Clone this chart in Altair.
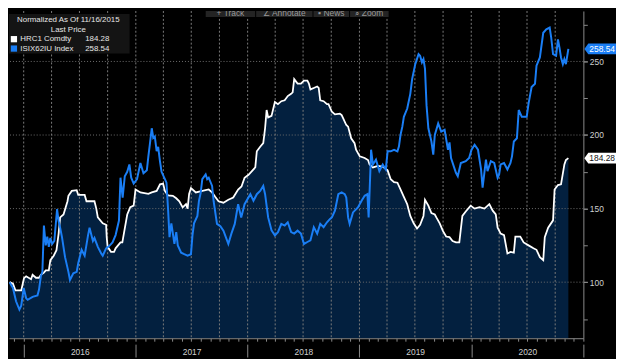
import altair as alt
import pandas as pd

# ---------------- data ----------------
series_names = ["HRC1 Comdty", "ISIX62IU Index"]
series_colors = ["#ffffff", "#1a7ef5"]
legend_title = ["Normalized As Of 11/16/2015", "Last Price"]
years = [2016, 2017, 2018, 2019, 2020]
y_major = [100, 150, 200, 250]
y_minor = [75, 100, 125, 150, 175, 200, 225, 250, 275]
toolbar_items = ["+ Track", "\u2220 Annotate", "\u25aa News", "\u2315 Zoom"]

hrc_dates = [
    "2015-11-16", "2015-11-27", "2015-12-05", "2015-12-24", "2016-01-02", "2016-01-09",
    "2016-01-25", "2016-01-30", "2016-02-10", "2016-02-20", "2016-02-26", "2016-03-07",
    "2016-03-13", "2016-03-23", "2016-03-28", "2016-04-08", "2016-04-17", "2016-04-24",
    "2016-04-29", "2016-05-10", "2016-05-23", "2016-05-26", "2016-06-06", "2016-06-22",
    "2016-06-27", "2016-07-18", "2016-07-24", "2016-08-19", "2016-08-25", "2016-08-30",
    "2016-09-15", "2016-09-26", "2016-09-28", "2016-10-01", "2016-10-12", "2016-10-22",
    "2016-10-27", "2016-11-12", "2016-11-18", "2016-11-23", "2016-12-04", "2016-12-14",
    "2016-12-25", "2016-12-31", "2017-01-16", "2017-02-11", "2017-02-22", "2017-03-10",
    "2017-03-15", "2017-03-21", "2017-03-31", "2017-04-06", "2017-04-16", "2017-05-02",
    "2017-05-13", "2017-05-23", "2017-06-03", "2017-06-14", "2017-06-19", "2017-06-24",
    "2017-06-30", "2017-07-16", "2017-08-06", "2017-08-27", "2017-09-07", "2017-09-17",
    "2017-09-28", "2017-10-14", "2017-10-30", "2017-11-15", "2017-12-01", "2017-12-12",
    "2017-12-22", "2018-01-04", "2018-01-15", "2018-01-26", "2018-01-31", "2018-02-11",
    "2018-02-21", "2018-02-27", "2018-03-04", "2018-03-09", "2018-03-20", "2018-03-31",
    "2018-04-10", "2018-04-21", "2018-05-02", "2018-05-12", "2018-05-23", "2018-05-28",
    "2018-06-02", "2018-06-13", "2018-06-24", "2018-07-04", "2018-07-15", "2018-07-20",
    "2018-07-25", "2018-08-05", "2018-08-16", "2018-08-21", "2018-08-26", "2018-09-06",
    "2018-09-17", "2018-09-22", "2018-10-03", "2018-10-13", "2018-10-29", "2018-11-04",
    "2018-11-09", "2018-11-19", "2018-11-25", "2018-12-05", "2018-12-16", "2018-12-21",
    "2019-01-02", "2019-01-18", "2019-01-29", "2019-02-03", "2019-02-14", "2019-03-02",
    "2019-03-18", "2019-04-03", "2019-04-13", "2019-04-24", "2019-05-05", "2019-05-15",
    "2019-05-26", "2019-06-06", "2019-06-16", "2019-06-27", "2019-07-08", "2019-07-18",
    "2019-07-29", "2019-08-03", "2019-08-14", "2019-08-24", "2019-09-04", "2019-09-09",
    "2019-09-20", "2019-09-30", "2019-10-11", "2019-10-22", "2019-11-01", "2019-11-12",
    "2019-11-23", "2019-12-03", "2019-12-14", "2019-12-30", "2020-01-12", "2020-01-28",
    "2020-02-13", "2020-02-29", "2020-03-11", "2020-03-21", "2020-03-27", "2020-04-06",
    "2020-04-17", "2020-04-28", "2020-05-08", "2020-05-19", "2020-05-24", "2020-06-09",
    "2020-06-20", "2020-07-06", "2020-07-22", "2020-08-01", "2020-08-12", "2020-08-23",
    "2020-08-28", "2020-09-08", "2020-09-24", "2020-09-29", "2020-10-10", "2020-10-20",
    "2020-10-31", "2020-11-05", "2020-11-13",
]
hrc_values = [
    100, 99, 94.4, 94.4, 102.7, 104,
    102, 105, 103, 103, 105, 106.5,
    108, 108, 115, 118, 121.7, 133,
    144, 146, 155, 158.7, 162, 162.5,
    159.3, 159.3, 155, 155, 150, 144,
    140, 139, 130.6, 124, 120.6, 120.6,
    123, 127, 127, 133, 146, 151,
    152, 163, 161, 160, 161, 162,
    164, 166.5, 167, 162, 159, 158.7,
    157, 155, 150.8, 153, 150, 160,
    164, 161, 162, 163, 161, 158,
    155, 154, 156, 157.5, 163, 165,
    171, 173, 175.5, 178, 189, 192,
    194.5, 204.6, 217, 212, 213, 222.5,
    221, 223, 223.6, 226.5, 228, 229,
    238, 235, 235, 237, 237, 235,
    231, 232, 233, 232, 223.6, 223,
    221, 221, 215.8, 214, 214.5, 213.6,
    211.3, 206.8, 205.7, 197.8, 194.5, 190,
    185.5, 184.4, 183, 180, 178, 179,
    178.5, 176, 170, 168, 167.6, 163,
    158, 153, 145, 140, 136.5, 139,
    145, 156, 152, 147, 146, 144,
    140, 135, 131, 130.6, 128, 127,
    127, 145, 148, 152, 150, 151,
    150, 153, 148.6, 146, 137, 133,
    132, 119.5, 120.5, 120, 131, 131,
    127, 125, 123, 122, 117, 115,
    130.6, 137, 142, 163, 166, 166.5,
    180, 183, 184.28,
]

isix_dates = [
    "2015-11-16", "2015-11-27", "2015-12-07", "2015-12-18", "2015-12-24", "2016-01-01",
    "2016-01-09", "2016-01-14", "2016-01-30", "2016-02-15", "2016-02-20", "2016-02-26",
    "2016-03-02", "2016-03-07", "2016-03-13", "2016-03-18", "2016-03-23", "2016-03-28",
    "2016-04-03", "2016-04-10", "2016-04-19", "2016-04-24", "2016-04-29", "2016-05-05",
    "2016-05-15", "2016-05-26", "2016-05-31", "2016-06-11", "2016-06-22", "2016-06-27",
    "2016-07-08", "2016-07-18", "2016-07-29", "2016-08-03", "2016-08-14", "2016-08-19",
    "2016-08-30", "2016-09-10", "2016-09-15", "2016-09-26", "2016-10-06", "2016-10-17",
    "2016-10-27", "2016-11-07", "2016-11-12", "2016-11-19", "2016-11-26", "2016-12-04",
    "2016-12-11", "2016-12-17", "2016-12-25", "2017-01-05", "2017-01-16", "2017-01-26",
    "2017-02-06", "2017-02-11", "2017-02-16", "2017-02-22", "2017-02-27", "2017-03-04",
    "2017-03-10", "2017-03-15", "2017-03-21", "2017-03-26", "2017-04-06", "2017-04-11",
    "2017-04-16", "2017-04-21", "2017-04-27", "2017-05-02", "2017-05-07", "2017-05-13",
    "2017-05-18", "2017-05-29", "2017-06-08", "2017-06-19", "2017-06-30", "2017-07-05",
    "2017-07-10", "2017-07-21", "2017-07-26", "2017-08-01", "2017-08-06", "2017-08-17",
    "2017-08-22", "2017-08-27", "2017-09-07", "2017-09-12", "2017-09-23", "2017-10-04",
    "2017-10-14", "2017-10-30", "2017-11-09", "2017-11-20", "2017-12-01", "2017-12-11",
    "2017-12-22", "2018-01-10", "2018-01-20", "2018-01-31", "2018-02-11", "2018-02-21",
    "2018-02-27", "2018-03-09", "2018-03-20", "2018-03-31", "2018-04-10", "2018-04-21",
    "2018-05-02", "2018-05-12", "2018-05-23", "2018-06-02", "2018-06-13", "2018-06-24",
    "2018-07-04", "2018-07-15", "2018-07-25", "2018-08-05", "2018-08-16", "2018-08-26",
    "2018-09-06", "2018-09-17", "2018-09-27", "2018-10-03", "2018-10-13", "2018-10-24",
    "2018-11-04", "2018-11-14", "2018-11-19", "2018-11-25", "2018-11-30", "2018-12-11",
    "2018-12-27", "2019-01-08", "2019-01-18", "2019-01-27", "2019-01-31", "2019-02-06",
    "2019-02-08", "2019-02-14", "2019-02-24", "2019-03-07", "2019-03-18", "2019-03-28",
    "2019-04-03", "2019-04-13", "2019-04-24", "2019-05-05", "2019-05-10", "2019-05-15",
    "2019-05-21", "2019-05-26", "2019-06-06", "2019-06-16", "2019-06-22", "2019-07-02",
    "2019-07-13", "2019-07-18", "2019-07-24", "2019-07-29", "2019-08-03", "2019-08-08",
    "2019-08-14", "2019-08-24", "2019-08-30", "2019-09-04", "2019-09-15", "2019-09-25",
    "2019-10-06", "2019-10-17", "2019-10-22", "2019-10-27", "2019-11-12", "2019-11-18",
    "2019-11-28", "2019-12-14", "2019-12-25", "2020-01-02", "2020-01-12", "2020-01-23",
    "2020-01-28", "2020-02-02", "2020-02-07", "2020-02-18", "2020-02-23", "2020-03-05",
    "2020-03-16", "2020-03-27", "2020-04-01", "2020-04-06", "2020-04-17", "2020-04-28",
    "2020-05-08", "2020-05-13", "2020-05-19", "2020-05-29", "2020-06-04", "2020-06-14",
    "2020-06-30", "2020-07-06", "2020-07-16", "2020-07-27", "2020-08-01", "2020-08-12",
    "2020-08-23", "2020-09-02", "2020-09-13", "2020-09-18", "2020-09-24", "2020-10-04",
    "2020-10-10", "2020-10-15", "2020-10-20", "2020-10-26", "2020-10-31", "2020-11-05",
    "2020-11-13",
]
isix_values = [
    100, 96, 87, 81.4, 84, 96,
    89, 88, 90, 91, 95, 104,
    107, 138.5, 125, 131, 124, 130,
    126, 128, 149.7, 141.5, 137, 130.6,
    117, 107, 101.5, 106, 107, 112.8,
    122, 118, 131.8, 137, 128, 130,
    124, 119.5, 118, 123, 124.5, 127,
    132, 141.9, 171, 157.5, 172, 175,
    180, 171, 167, 170, 181, 174,
    176, 185.5, 194, 204.6, 198, 199,
    189, 192, 182, 175, 170, 167.6,
    150.6, 130.6, 140, 133, 126, 134,
    125, 120, 119, 118, 119, 132,
    140, 145, 155, 161, 170, 173.2,
    170, 171, 165.4, 155, 139.6, 138,
    135, 126, 133, 139.6, 153, 144,
    153, 159.8, 155.3, 159.8, 162, 165.4,
    159.8, 144, 135.2, 131.8, 134, 139.6,
    138.5, 140.7, 134, 133, 135, 133,
    126, 127.3, 128.4, 137.4, 133, 139.6,
    137.4, 140.7, 143, 144, 148.6, 159.8,
    161, 159.8, 157.5, 144, 139.6, 147.4,
    150.8, 155.3, 158.7, 159.8, 144, 177.7,
    190, 180, 183.3, 175.5, 180, 176.6,
    188.9, 188.9, 190, 188.9, 192.3, 200,
    205.7, 212.4, 218, 228, 238, 248,
    255, 253.9, 249.4, 251.6, 244.9, 220.3,
    204.6, 195.6, 186.7, 200, 207.9, 202.3,
    203.5, 190, 195, 184.4, 174.3, 172,
    181, 182.2, 184.4, 190, 193.4, 190,
    183.3, 176.6, 164.2, 183.3, 175.5, 182.2,
    181, 171, 173.2, 180, 181, 176.6,
    181, 185.5, 195.6, 197.8, 217, 212.4,
    212.4, 221.4, 232.6, 234.8, 247.1, 252.7,
    269.5, 271.8, 273, 266.2, 255, 253.9,
    265, 259.4, 252.7, 248.2, 251.6, 248.2,
    258.54,
]

# ---------------- styling ----------------
W, H = 581, 331
Y_MIN, Y_MAX = 61.9, 284.3
NAVY = "#03203f"
AXIS_GRAY = "#8a8a8a"
GRID_GRAY = "#6e6e6e"
VGRID_GRAY = "#7a7a7a"
LABEL_GRAY = "#cfcfcf"
FONT = "Liberation Sans"
FS = 8.5

hrc = pd.DataFrame({"date": hrc_dates, "value": hrc_values})
isix = pd.DataFrame({"date": isix_dates, "value": isix_values})
quarters = pd.DataFrame({"qdate": [f"{y}-{m:02d}-01" for y in years for m in (1, 4, 7, 10)]})
hlines = pd.DataFrame({"value": y_major})

xscale = alt.Scale(domain=[alt.DateTime(year=2015, month=11, date=14),
                           alt.DateTime(year=2021, month=1, date=1)])
yscale = alt.Scale(domain=[Y_MIN, Y_MAX], nice=False, zero=False)

# x axes (all on the bottom, sharing one scale)
x_axis_ticks = alt.Axis(orient="bottom", title=None, tickCount={"interval": "month", "step": 1},
                        labels=False, tickSize=3, tickColor=AXIS_GRAY, domainColor=AXIS_GRAY,
                        grid=False)
x_axis_years = alt.Axis(orient="bottom", title=None,
                        values=[alt.DateTime(year=y, month=7, date=2) for y in years],
                        format="%Y", ticks=False, domain=False, grid=False,
                        labelColor=LABEL_GRAY, labelFont=FONT, labelFontSize=FS, labelPadding=9,
                        labelOverlap=False)
x_axis_sep = alt.Axis(orient="bottom", title=None, tickCount={"interval": "year", "step": 1},
                      labels=False, domain=False, grid=False, tickSize=13, offset=6,
                      tickColor=AXIS_GRAY)
# y axes (both on the right)
y_axis_major = alt.Axis(orient="right", title=None, values=y_major, tickSize=4,
                        tickColor=AXIS_GRAY, domainColor=AXIS_GRAY, labelColor=LABEL_GRAY,
                        labelFont=FONT, labelFontSize=FS, labelPadding=2, labelOverlap=False,
                        grid=False)
y_axis_minor = alt.Axis(orient="right", title=None, values=y_minor, tickSize=4,
                        tickColor=AXIS_GRAY, labels=False, domain=False, grid=False)

area = alt.Chart(hrc).mark_area(color=NAVY, clip=True).encode(
    x=alt.X("date:T", scale=xscale, axis=x_axis_ticks),
    y=alt.Y("value:Q", scale=yscale, axis=y_axis_major),
    y2=alt.datum(Y_MIN),
)
axis_helper = alt.Chart(hrc).mark_line(strokeOpacity=0, clip=True).encode(
    x=alt.X("date:T", scale=xscale, axis=None),
    y=alt.Y("value:Q", scale=yscale, axis=y_axis_minor),
)
vgrid = alt.Chart(quarters).mark_rule(color=VGRID_GRAY, strokeDash=[2, 2], strokeWidth=1).encode(
    x=alt.X("qdate:T", scale=xscale, axis=None),
)
hgrid = alt.Chart(hlines).mark_rule(color=GRID_GRAY, strokeDash=[1, 2], strokeWidth=1).encode(
    y=alt.Y("value:Q", scale=yscale, axis=None),
)
line_hrc = alt.Chart(hrc).mark_line(color=series_colors[0], strokeWidth=1.8, clip=True).encode(
    x=alt.X("date:T", scale=xscale, axis=x_axis_years),
    y=alt.Y("value:Q", scale=yscale, axis=None),
)
line_isix = alt.Chart(isix).mark_line(color=series_colors[1], strokeWidth=2, clip=True).encode(
    x=alt.X("date:T", scale=xscale, axis=x_axis_sep),
    y=alt.Y("value:Q", scale=yscale, axis=None),
)

# last-value tags on the right axis
last = pd.DataFrame({
    "value": [hrc_values[-1], isix_values[-1]],
    "label": [f"{hrc_values[-1]:.2f}", f"{isix_values[-1]:.2f}"],
    "fill": [series_colors[0], series_colors[1]],
    "ink": ["#111111", "#ffffff"],
})
TAG = "M-1,0L-0.75,-0.344L1,-0.344L1,0.344L-0.75,0.344Z"
tags = alt.Chart(last).mark_point(shape=TAG, size=1024, filled=True, opacity=1).encode(
    x=alt.value(W + 17),
    y=alt.Y("value:Q", scale=yscale, axis=None),
    color=alt.Color("fill:N", scale=None),
)
tag_text = alt.Chart(last).mark_text(font=FONT, fontSize=FS, align="center", baseline="middle").encode(
    x=alt.value(W + 19),
    y=alt.Y("value:Q", scale=yscale, axis=None),
    text="label:N",
    color=alt.Color("ink:N", scale=None),
)

# legend box (top-left)
one = pd.DataFrame({"k": [0]})
LFS = 8
leg_bg = alt.Chart(one).mark_rect(color="#141414").encode(
    x=alt.value(0), x2=alt.value(122), y=alt.value(3), y2=alt.value(43))
leg_layers = [leg_bg]
for i, t in enumerate(legend_title):
    leg_layers.append(alt.Chart(pd.DataFrame({"t": [t]})).mark_text(
        font=FONT, fontSize=LFS, color="#e6e6e6", align="center", baseline="middle").encode(
        x=alt.value(60), y=alt.value(9.5 + 9.5 * i), text="t:N"))
for i, (nm, col) in enumerate(zip(series_names, series_colors)):
    yy = 28.5 + 9.5 * i
    leg_layers.append(alt.Chart(one).mark_square(size=40, color=col, opacity=1).encode(
        x=alt.value(5), y=alt.value(yy)))
    leg_layers.append(alt.Chart(pd.DataFrame({"t": [nm]})).mark_text(
        font=FONT, fontSize=LFS, color="#e6e6e6", align="left", baseline="middle").encode(
        x=alt.value(11.5), y=alt.value(yy), text="t:N"))
    leg_layers.append(alt.Chart(pd.DataFrame({"t": [last["label"][i]]})).mark_text(
        font=FONT, fontSize=LFS, color="#e6e6e6", align="right", baseline="middle").encode(
        x=alt.value(101.5), y=alt.value(yy), text="t:N"))

# toolbar at the top (partly cut off)
tb_layers = []
tb_boxes = [(199, 249), (250, 307), (308, 344), (345, 384)]
for lab, (a, b) in zip(toolbar_items, tb_boxes):
    tb_layers.append(alt.Chart(one).mark_rect(color="#242424").encode(
        x=alt.value(a), x2=alt.value(b), y=alt.value(0), y2=alt.value(6)))
    tb_layers.append(alt.Chart(pd.DataFrame({"t": [lab]})).mark_text(
        font=FONT, fontSize=FS, color="#9a9a9a", align="center", baseline="middle", clip=True).encode(
        x=alt.value((a + b) / 2), y=alt.value(2), text="t:N"))

chart = alt.layer(
    area, axis_helper, vgrid, hgrid, line_hrc, line_isix, tags, tag_text, *leg_layers, *tb_layers
).resolve_axis(x="independent", y="independent").properties(
    width=W, height=H, background="#000000", padding=0
).configure_view(stroke=None)

chart.save("out.html", embed_options={"renderer": "svg", "actions": False})
